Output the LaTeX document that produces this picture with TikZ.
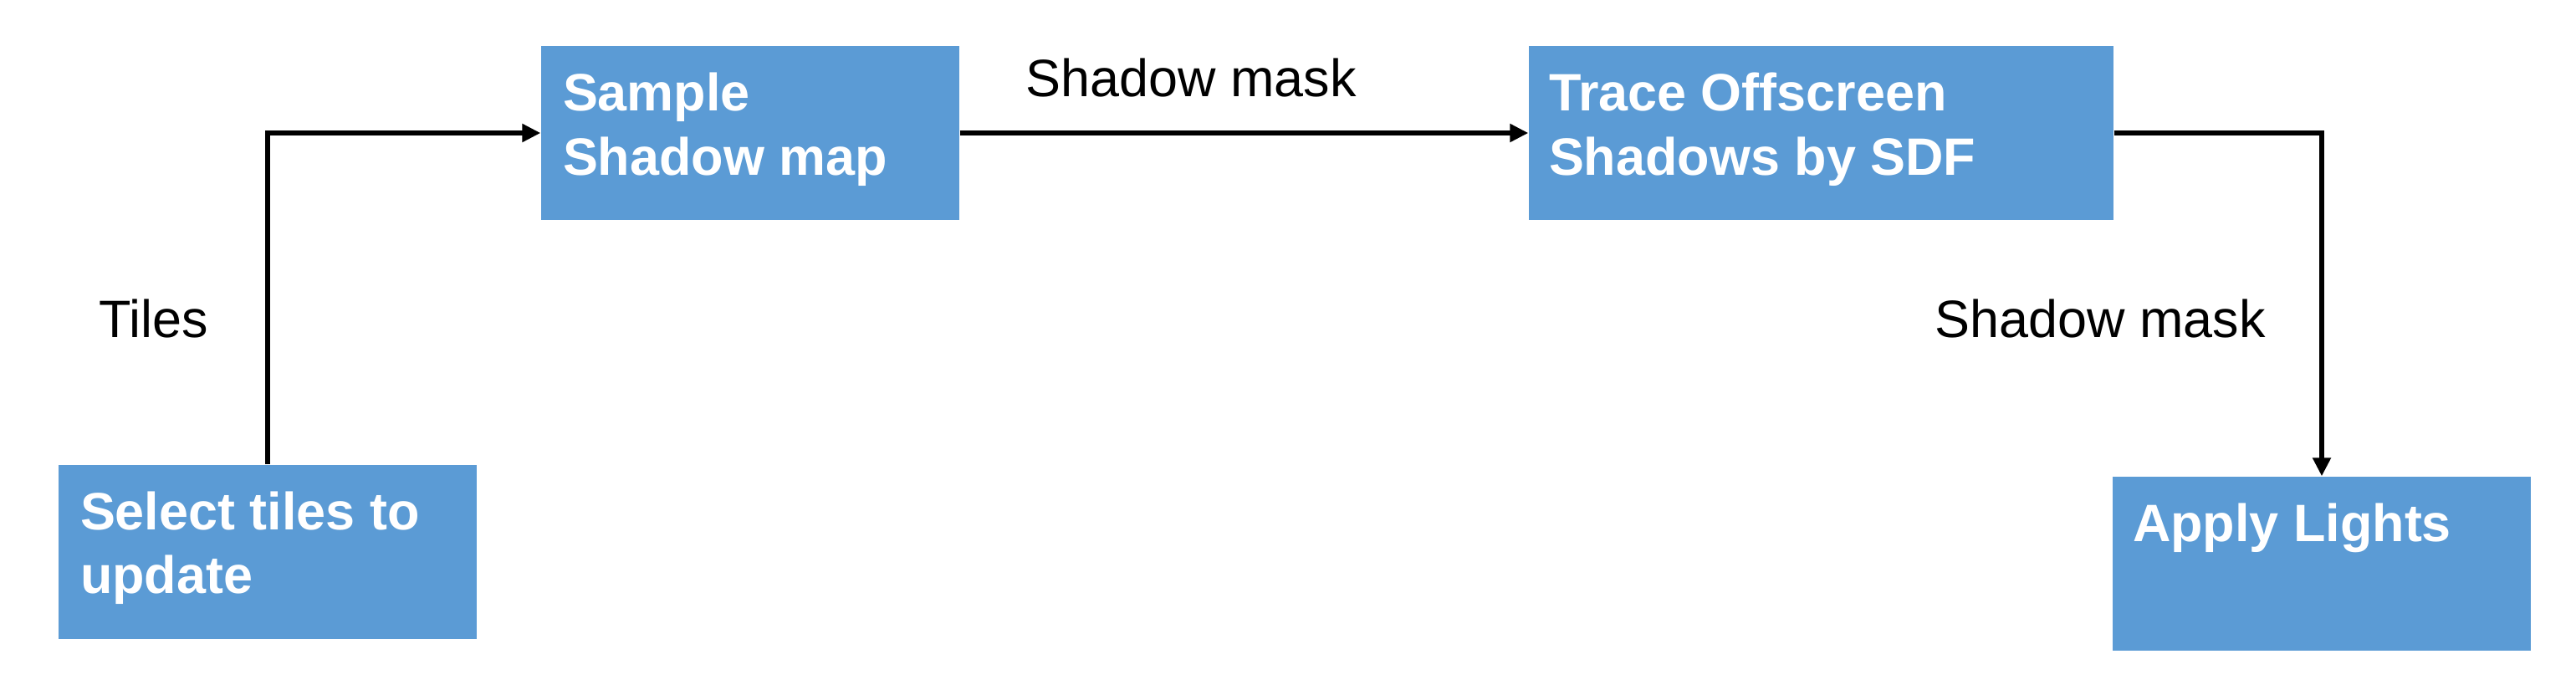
\documentclass[tikz,border=0pt]{standalone}
\usepackage{fontspec}
\setmainfont{Liberation Sans}
\usetikzlibrary{arrows.meta, positioning}
\definecolor{boxblue}{HTML}{5B9BD5}
\tikzset{
  stepbox/.style={fill=boxblue, draw=none, minimum height=2.08cm, inner sep=0pt},
  boxtext/.style={text=white, font=\fontsize{17.9}{21.8}\selectfont\bfseries, align=left, inner sep=0pt},
  flowlabel/.style={font=\fontsize{17.9}{21.6}\selectfont, inner sep=0pt, anchor=base west},
  flow/.style={line width=1.5pt, -{Triangle[length=0.22cm, width=0.21cm]}}
}
\begin{document}
\begin{tikzpicture}
\useasboundingbox (0,0) rectangle (30.8,8.3);
\node (select) at (3.200000,1.705000) [stepbox, minimum width=5.00cm] {};
\node (sample) at (8.970000,6.710000) [stepbox, minimum width=5.00cm] {};
\node (trace) at (21.775000,6.710000) [stepbox, minimum width=6.99cm] {};
\node (apply) at (27.760000,1.560000) [stepbox, minimum width=5.00cm] {};
\node (selecttext) [boxtext, below right=0.32cm and 0.26cm of select.north west] {Select tiles to\\update};
\node (sampletext) [boxtext, below right=0.32cm and 0.26cm of sample.north west] {Sample\\Shadow map};
\node (tracetext) [boxtext, below right=0.32cm and 0.24cm of trace.north west] {Trace Offscreen\\Shadows by SDF};
\node (applytext) [boxtext, below right=0.32cm and 0.24cm of apply.north west] {Apply Lights};
\node (tileslabel) at (1.180000,4.270000) [flowlabel] {Tiles};
\node (masklabel) at (12.260000,7.150000) [flowlabel] {Shadow mask};
\node (masklabelb) at (23.130000,4.270000) [flowlabel] {Shadow mask};
\draw [flow] (select.north) |- (sample.west);
\draw [flow] (sample.east) -- (trace.west);
\draw [flow] (trace.east) -| (apply.north);
\end{tikzpicture}
\end{document}
